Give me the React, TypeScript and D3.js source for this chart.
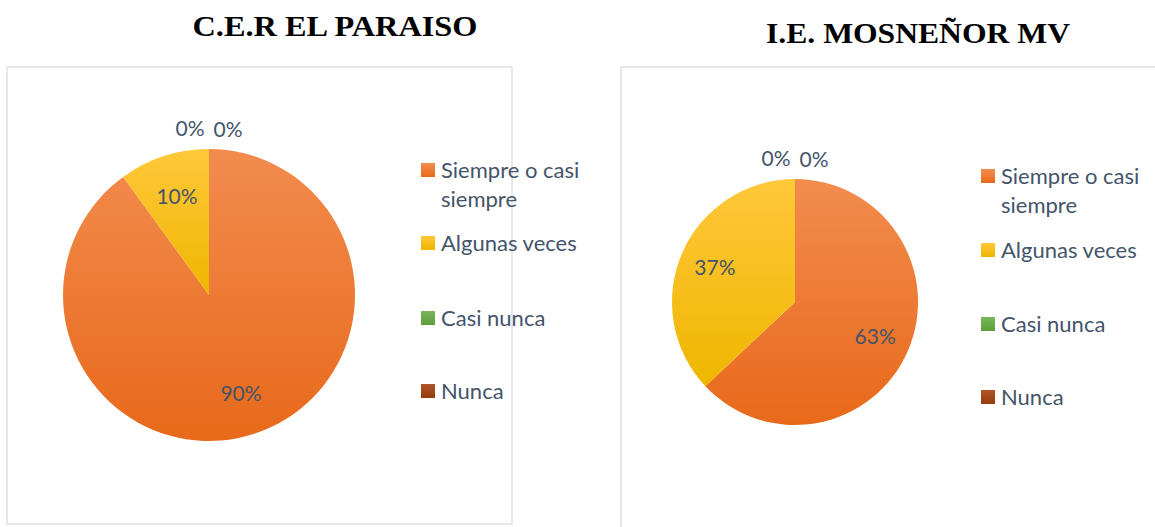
import { useEffect, useRef } from "react";
import * as d3 from "d3";

const categories = ["Siempre o casi siempre", "Algunas veces", "Casi nunca", "Nunca"];
const legendLines = [["Siempre o casi", "siempre"], ["Algunas veces"], ["Casi nunca"], ["Nunca"]];
const paraisoValues = [90, 10, 0, 0];
const mosnenorValues = [63, 37, 0, 0];
const titles = ["C.E.R EL PARAISO", "I.E. MOSNEÑOR MV"];
const colorsTop = ["#F28C4E", "#FFC83A", "#7AB55C", "#B0552A"];
const colorsBottom = ["#E8691A", "#EFB600", "#5E9E3A", "#943C0C"];

export default function App() {
  const ref = useRef<SVGSVGElement | null>(null);

  useEffect(() => {
    if (!ref.current) return;
    const svg = d3.select(ref.current);
    svg.selectAll("*").remove();

    const defs = svg.append("defs");
    categories.forEach((_, i) => {
      const g = defs.append("linearGradient")
        .attr("id", `grad${i}`)
        .attr("x1", "0%").attr("y1", "0%").attr("x2", "0%").attr("y2", "100%");
      g.append("stop").attr("offset", "0%").attr("stop-color", colorsTop[i]);
      g.append("stop").attr("offset", "100%").attr("stop-color", colorsBottom[i]);
    });

    const panels = [
      { values: paraisoValues, title: titles[0], titleX: 335, titleY: 36, titleW: 285, box: [7, 67, 505, 457], cx: 209, cy: 295, r: 146, legX: 421, legY: [170, 243, 318, 391] },
      { values: mosnenorValues, title: titles[1], titleX: 918, titleY: 43, titleW: 304, box: [621, 67, 560, 480], cx: 795, cy: 302, r: 123, legX: 981, legY: [176, 250, 324, 397] }
    ];

    const pie = d3.pie<number>().sort(null).value(d => d);

    panels.forEach(p => {
      svg.append("text")
        .attr("x", p.titleX)
        .attr("y", p.titleY)
        .attr("text-anchor", "middle")
        .attr("textLength", p.titleW)
        .attr("lengthAdjust", "spacingAndGlyphs")
        .style("font-family", "'Liberation Serif', 'Times New Roman', serif")
        .style("font-weight", "bold")
        .style("font-size", "30px")
        .attr("fill", "#000")
        .text(p.title);

      svg.append("rect")
        .attr("x", p.box[0]).attr("y", p.box[1])
        .attr("width", p.box[2]).attr("height", p.box[3])
        .attr("fill", "#fff")
        .attr("stroke", "#dde2ea")
        .attr("stroke-width", 1.5);

      const g = svg.append("g").attr("transform", `translate(${p.cx},${p.cy})`);
      const arcs = pie(p.values);
      const arc = d3.arc<d3.PieArcDatum<number>>().innerRadius(0).outerRadius(p.r);
      const labelArc = d3.arc<d3.PieArcDatum<number>>().innerRadius(p.r * 0.71).outerRadius(p.r * 0.71);

      g.selectAll("path.slice")
        .data(arcs.filter(a => a.value > 0))
        .enter()
        .append("path")
        .attr("class", "slice")
        .attr("d", arc)
        .attr("fill", d => `url(#grad${d.index})`);

      // data labels: zero slices sit outside the top of the pie
      let zeroCount = 0;
      arcs.forEach(a => {
        let x: number, y: number;
        if (a.value > 0) {
          [x, y] = labelArc.centroid(a);
        } else {
          const side = zeroCount === 0 ? -1 : 1;
          zeroCount++;
          x = side * 19;
          y = -p.r - 20 + (side > 0 ? 1 : 0);
        }
        g.append("text")
          .attr("x", x)
          .attr("y", y)
          .attr("dy", "0.35em")
          .attr("text-anchor", "middle")
          .style("font-family", "Lato, 'Open Sans', sans-serif")
          .style("font-size", "21px")
          .attr("fill", "#44546A")
          .text(`${a.value}%`);
      });

      categories.forEach((_, i) => {
        const y = p.legY[i];
        svg.append("rect")
          .attr("x", p.legX).attr("y", y - 7)
          .attr("width", 14).attr("height", 14)
          .attr("fill", `url(#grad${i})`);
        legendLines[i].forEach((line, j) => {
          svg.append("text")
            .attr("x", p.legX + 20)
            .attr("y", y + j * 29)
            .attr("dy", "0.35em")
            .style("font-family", "Lato, 'Open Sans', sans-serif")
            .style("font-size", "22px")
            .attr("fill", "#44546A")
            .text(line);
        });
      });
    });
  }, []);

  return (
    <div style={{ position: "absolute", left: 0, top: 0 }}>
      <svg ref={ref} width={1155} height={527} style={{ display: "block", background: "#fff" }} />
    </div>
  );
}
